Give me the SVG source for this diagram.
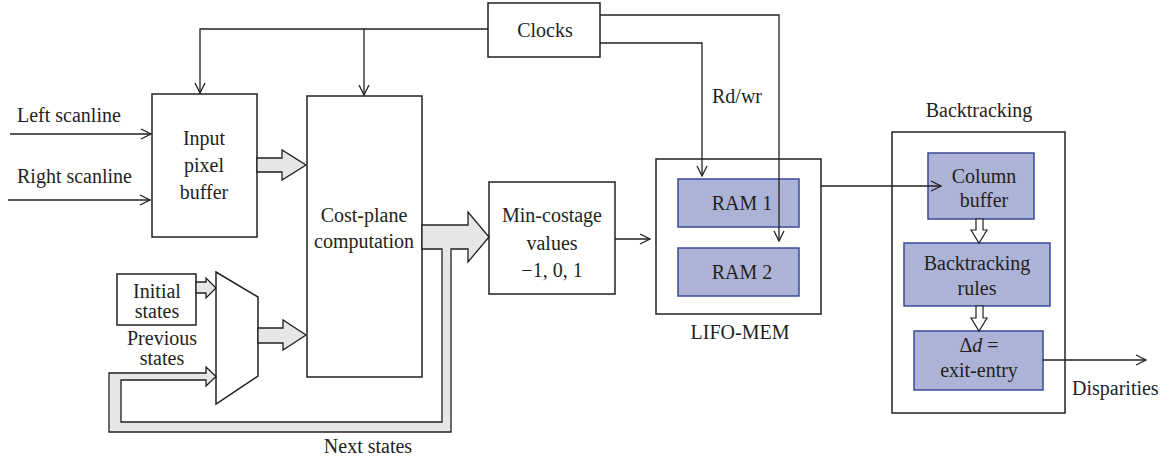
<svg xmlns="http://www.w3.org/2000/svg" width="1172" height="461" viewBox="0 0 1172 461">
<defs>
<marker id="arr" viewBox="0 0 12 12" refX="11" refY="6" markerWidth="12" markerHeight="12" markerUnits="userSpaceOnUse" orient="auto">
<polyline points="1,1 11,6 1,11" fill="none" stroke="#231f20" stroke-width="1.3"/>
</marker>
<style>
text{font-family:"Liberation Serif","Times New Roman",serif;font-size:20px;fill:#231f20}
.m{text-anchor:middle}
.box{fill:#fff;stroke:#231f20;stroke-width:1.5}
.blue{fill:#adb3d6;stroke:#3a4a9a;stroke-width:1.5}
.ln{fill:none;stroke:#231f20;stroke-width:1.3}
.gray{fill:#e6e6e6;stroke:#231f20;stroke-width:1.3;stroke-linejoin:miter}
.hol{fill:#fff;stroke:#231f20;stroke-width:1.2}
</style>
</defs>
<rect width="1172" height="461" fill="#fff"/>

<g id="left-scanline"><text x="17" y="122">Left scanline</text></g>
<g id="right-scanline"><text x="17" y="183">Right scanline</text></g>

<g id="input-buffer">
<rect class="box" x="152" y="94" width="105" height="143"/>
<text class="m" x="204" y="145">Input</text>
<text class="m" x="204" y="172">pixel</text>
<text class="m" x="204" y="199">buffer</text>
</g>

<g id="cost-plane">
<rect class="box" x="307" y="96" width="115" height="281"/>
<text class="m" x="364" y="222">Cost-plane</text>
<text class="m" x="364" y="248">computation</text>
</g>

<g id="initial-states">
<rect class="box" x="117" y="274" width="79" height="51"/>
<text class="m" x="157" y="298">Initial</text>
<text class="m" x="157" y="318">states</text>
</g>

<g id="mux">
<polygon class="box" points="216,272 258,297 258,376 216,404"/>
</g>

<g id="previous-states">
<text class="m" x="162" y="345">Previous</text>
<text class="m" x="162" y="365">states</text>
</g>

<g id="next-states"><text class="m" x="368" y="453">Next states</text></g>

<g id="clocks">
<rect class="box" x="488" y="3" width="112" height="54"/>
<text class="m" x="545" y="37">Clocks</text>
</g>

<g id="rdwr"><text x="712" y="103">Rd/wr</text></g>

<g id="min-costage">
<rect class="box" x="489" y="182" width="126" height="112"/>
<text class="m" x="552" y="222">Min-costage</text>
<text class="m" x="552" y="250">values</text>
<text class="m" x="552" y="277">−1, 0, 1</text>
</g>

<g id="lifo-mem">
<rect class="box" x="656" y="159" width="165" height="155"/>
<text class="m" x="740" y="339">LIFO-MEM</text>
</g>

<g id="ram1">
<rect class="blue" x="678" y="179" width="121" height="48"/>
<text class="m" x="742" y="210">RAM 1</text>
</g>

<g id="ram2">
<rect class="blue" x="678" y="248" width="121" height="48"/>
<text class="m" x="742" y="279">RAM 2</text>
</g>

<g id="backtracking">
<rect class="box" x="892" y="132" width="173" height="281"/>
<text class="m" x="979" y="117">Backtracking</text>
</g>

<g id="column-buffer">
<rect class="blue" x="928" y="153" width="106" height="66"/>
<text class="m" x="984" y="183">Column</text>
<text class="m" x="984" y="207">buffer</text>
</g>

<g id="backtracking-rules">
<rect class="blue" x="904" y="243" width="146" height="63"/>
<text class="m" x="977" y="270">Backtracking</text>
<text class="m" x="977" y="295">rules</text>
</g>

<g id="delta-d">
<rect class="blue" x="914" y="331" width="129" height="59"/>
<text class="m" x="979" y="352">Δ<tspan font-style="italic">d</tspan> =</text>
<text class="m" x="979" y="377">exit-entry</text>
</g>

<g id="disparities"><text x="1072" y="395">Disparities</text></g>

<g id="connectors">
<line class="ln" x1="10" y1="134" x2="151" y2="134" marker-end="url(#arr)"/>
<line class="ln" x1="8" y1="200" x2="150" y2="200" marker-end="url(#arr)"/>
<path class="ln" d="M488,29 H200 V93" marker-end="url(#arr)"/>
<path class="ln" d="M364,29 V95" marker-end="url(#arr)"/>
<path class="ln" d="M600,15 H779 V241" marker-end="url(#arr)"/>
<path class="ln" d="M600,43 H702 V176" marker-end="url(#arr)"/>
<line class="ln" x1="615" y1="239" x2="650" y2="239" marker-end="url(#arr)"/>
<line class="ln" x1="821" y1="186" x2="941" y2="186" marker-end="url(#arr)"/>
<line class="ln" x1="1043" y1="360" x2="1146" y2="360" marker-end="url(#arr)"/>
<polygon class="gray" points="257,158 282,158 282,150 306,165 282,180 282,172 257,172"/>
<polygon class="gray" points="196,282 206,282 206,278 216,288 206,298 206,293 196,293"/>
<polygon class="gray" points="258,328 283,328 283,320 306,335 283,350 283,343 258,343"/>
<polygon class="gray" points="422,225 468,225 468,212 489,237 468,262 468,249 451,249 451,432 109,432 109,373 206,373 206,367 216,376.5 206,386 206,380 121,380 121,422 442,422 442,249 422,249"/>
<polygon class="hol" points="976,219 983,219 983,230 987,230 979,243 971,230 976,230"/>
<polygon class="hol" points="976,306 983,306 983,318 987,318 979,331 971,318 976,318"/>
</g>
</svg>
